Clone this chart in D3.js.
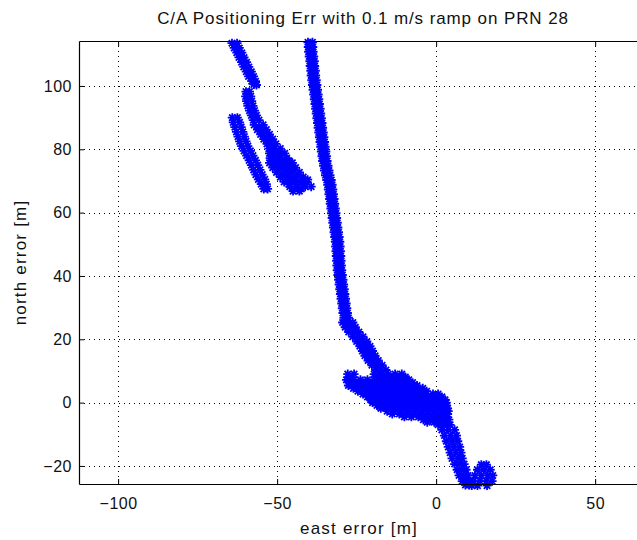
<!DOCTYPE html>
<html>
<head>
<meta charset="utf-8">
<script src="https://cdn.jsdelivr.net/npm/d3@7"></script>
<style>
  body { margin: 0; background: #fff; }
  svg { display: block; font-family: "Liberation Sans", Arial, sans-serif; }
</style>
</head>
<body>
<div class="chart"></div>
<script>
// tick values
const xTicks = [-100, -50, 0, 50];
const yTicks = [-20, 0, 20, 40, 60, 80, 100];

// positioning error samples [east, north] in metres
const stripA = [
  [-64.2,113.5],[-62.6,113.5],[-63.5,112],[-61.9,112],[-62.7,110.5],[-61.1,110.5],
  [-62.0,109],[-60.4,109],[-61.2,107.5],[-59.6,107.5],[-60.5,106],[-58.9,106],
  [-59.7,104.5],[-58.1,104.5],[-59.0,103],[-57.4,103],[-58.0,101.5],[-56.8,101.5],
  [-57.3,100.5],[-56.5,100.3]
];
const stripB = [
  [-59.8,98.2],[-58.7,98.2],[-59.9,96.7],[-58.3,96.7],[-59.6,95.2],[-58.0,95.2],
  [-59.2,93.7],[-57.6,93.7],[-58.7,92.2],[-57.1,92.2],[-58.1,90.7],[-56.5,90.7],
  [-57.5,89.2],[-55.7,89.2],
  [-57.2,87.7],[-54.4,87.7],[-56.2,86.2],[-53.4,86.2],[-55.2,84.7],[-52.4,84.7],
  [-54.2,83.2],[-51.4,83.2],[-53.2,81.7],[-50.4,81.7],
  [-55.8,87.0],[-54.8,85.5],[-53.8,84.0],[-52.8,82.5],[-51.8,81.0],
  [-52.6,80.2],[-50.8,80.2],[-49.0,80.2],
  [-51.4,79.4],[-49.0,79.4],
  [-52.4,78.7],[-50.0,78.7],[-47.6,78.7],
  [-51.2,77.9],[-48.8,77.9],
  [-52.2,77.2],[-49.6,77.2],[-47.0,77.2],
  [-51.0,76.4],[-48.6,76.4],[-46.2,76.4],
  [-52.4,75.7],[-50.0,75.7],[-47.6,75.7],[-45.2,75.7],
  [-50.7,74.9],[-48.3,74.9],[-45.9,74.9],
  [-51.4,74.2],[-49.0,74.2],[-46.6,74.2],[-44.2,74.2],
  [-49.6,73.4],[-47.2,73.4],[-44.8,73.4],
  [-50.2,72.7],[-47.8,72.7],[-45.4,72.7],[-43.0,72.7],
  [-48.4,71.9],[-46.0,71.9],[-43.6,71.9],
  [-49.0,71.2],[-46.6,71.2],[-44.2,71.2],[-41.8,71.2],
  [-47.2,70.4],[-44.8,70.4],[-42.4,70.4],[-40.4,70.4],
  [-47.8,69.7],[-45.4,69.7],[-43.0,69.7],[-40.6,69.7],
  [-46.2,68.9],[-43.8,68.9],[-41.4,68.9],
  [-46.0,68.2],[-43.6,68.2],[-41.2,68.2],[-39.3,68.2],
  [-44.6,67.5],[-42.4,67.5],
  [-45.0,66.8],[-43.0,66.8]
];
const stripC = [
  [-64.1,90.0],[-62.5,90.0],[-63.8,88.5],[-61.8,88.5],[-63.3,87.0],[-61.3,87.0],
  [-62.8,85.5],[-60.8,85.5],[-62.3,84.0],[-60.3,84.0],[-61.8,82.5],[-59.8,82.5],
  [-61.2,81.0],[-59.2,81.0],[-60.4,79.5],[-58.4,79.5],[-59.6,78.0],[-57.6,78.0],
  [-58.8,76.5],[-56.8,76.5],[-58.1,75.0],[-56.1,75.0],[-57.4,73.5],[-55.4,73.5],
  [-56.7,72.0],[-54.7,72.0],[-55.9,70.5],[-53.9,70.5],[-55.0,69.0],[-53.4,69.0],
  [-54.2,67.5],[-53.0,67.5]
];
const mainTrack = [
  [-40.3,113.8],[-38.9,113.8],[-40.2,112.3],[-38.8,112.3],[-40.1,110.8],[-38.7,110.8],
  [-39.9,109.3],[-38.5,109.3],[-39.7,107.8],[-38.3,107.8],[-39.6,106.3],[-38.2,106.3],
  [-39.4,104.8],[-38.0,104.8],[-39.3,103.3],[-37.9,103.3],[-39.1,101.8],[-37.7,101.8],
  [-38.9,100.3],[-37.5,100.3],[-38.7,98.8],[-37.3,98.8],[-38.5,97.3],[-37.1,97.3],
  [-38.3,95.8],[-36.9,95.8],[-38.1,94.3],[-36.7,94.3],[-37.9,92.8],[-36.5,92.8],
  [-37.7,91.3],[-36.3,91.3],[-37.5,89.8],[-36.1,89.8],[-37.3,88.3],[-35.9,88.3],
  [-37.1,86.8],[-35.7,86.8],[-36.9,85.3],[-35.5,85.3],[-36.7,83.8],[-35.3,83.8],
  [-36.5,82.3],[-35.1,82.3],[-36.3,80.8],[-34.9,80.8],[-36.1,79.3],[-34.7,79.3],
  [-35.9,77.8],[-34.5,77.8],[-35.7,76.3],[-34.3,76.3],[-35.4,74.8],[-34.0,74.8],
  [-35.1,73.3],[-33.7,73.3],[-34.8,71.8],[-33.4,71.8],[-34.4,70.3],[-33.0,70.3],
  [-34.1,68.8],[-32.7,68.8],[-33.9,67.3],[-32.5,67.3],[-33.7,65.8],[-32.3,65.8],
  [-33.5,64.3],[-32.1,64.3],[-33.3,62.8],[-31.9,62.8],[-33.1,61.3],[-31.7,61.3],
  [-32.9,59.8],[-31.5,59.8],[-32.7,58.3],[-31.3,58.3],[-32.5,56.8],[-31.1,56.8],
  [-32.3,55.3],[-30.9,55.3],[-32.1,53.8],[-30.7,53.8],[-31.9,52.3],[-30.5,52.3],
  [-31.7,50.8],[-30.3,50.8],[-31.6,49.3],[-30.2,49.3],[-31.5,47.8],[-30.1,47.8],
  [-31.4,46.3],[-30.0,46.3],[-31.3,44.8],[-29.9,44.8],[-31.2,43.3],[-29.8,43.3],
  [-31.1,41.8],[-29.7,41.8],[-30.9,40.3],[-29.5,40.3],[-30.7,38.8],[-29.3,38.8],
  [-30.5,37.3],[-29.1,37.3],[-30.3,35.8],[-28.9,35.8],[-30.1,34.3],[-28.7,34.3],
  [-29.9,32.8],[-28.5,32.8],[-29.7,31.3],[-28.3,31.3],[-29.5,29.8],[-28.1,29.8],
  [-29.3,28.3],[-27.9,28.3],[-29.0,26.8],[-27.6,26.8],
  [-29.4,25.3],[-27.8,25.3],[-26.2,25.3],[-28.6,23.8],[-27.0,23.8],[-25.4,23.8],
  [-27.5,22.3],[-25.9,22.3],[-24.3,22.3],[-26.2,20.8],[-24.6,20.8],[-23.0,20.8],
  [-25.0,19.3],[-23.4,19.3],[-21.8,19.3],[-24.0,17.8],[-22.4,17.8],[-20.8,17.8],
  [-23.2,16.3],[-21.6,16.3],[-20.0,16.3],[-22.4,14.8],[-20.8,14.8],[-19.2,14.8],
  [-21.4,13.3],[-19.8,13.3],[-18.2,13.3],[-20.2,11.8],[-18.6,11.8],[-17.0,11.8],
  [-19.0,10.3],[-17.4,10.3],[-15.8,10.3]
];
const blob = [
  [-27.8,9.0],[-25.8,9.0],[-19.5,9.0],[-17.3,9.0],[-15.1,9.0],[-12.9,9.0],[-10.8,9.0],
  [-27.0,8.1],[-18.4,8.1],[-16.2,8.1],[-14.0,8.1],[-11.8,8.1],[-9.7,8.1],
  [-28.2,7.2],[-26.0,7.2],[-23.8,7.2],[-21.6,7.2],[-19.4,7.2],[-17.2,7.2],[-15.0,7.2],
  [-12.8,7.2],[-10.6,7.2],[-8.6,7.2],
  [-27.1,6.3],[-24.9,6.3],[-22.7,6.3],[-20.5,6.3],[-18.3,6.3],[-16.1,6.3],[-13.9,6.3],
  [-11.7,6.3],[-9.5,6.3],[-7.4,6.3],
  [-27.6,5.4],[-25.4,5.4],[-23.2,5.4],[-21.0,5.4],[-18.8,5.4],[-16.6,5.4],[-14.4,5.4],
  [-12.2,5.4],[-10.0,5.4],[-7.8,5.4],[-6.0,5.4],
  [-26.0,4.5],[-23.8,4.5],[-21.6,4.5],[-19.4,4.5],[-17.2,4.5],[-15.0,4.5],[-12.8,4.5],
  [-10.6,4.5],[-8.4,4.5],[-6.2,4.5],[-4.2,4.5],
  [-24.6,3.6],[-22.4,3.6],[-20.2,3.6],[-18.0,3.6],[-15.8,3.6],[-13.6,3.6],[-11.4,3.6],
  [-9.2,3.6],[-7.0,3.6],[-4.8,3.6],[-3.0,3.6],
  [-23.0,2.7],[-20.8,2.7],[-18.6,2.7],[-16.4,2.7],[-14.2,2.7],[-12.0,2.7],[-9.8,2.7],
  [-7.6,2.7],[-5.4,2.7],[-3.2,2.7],[-1.0,2.7],[0.6,2.7],
  [-21.6,1.8],[-19.4,1.8],[-17.2,1.8],[-15.0,1.8],[-12.8,1.8],[-10.6,1.8],[-8.4,1.8],
  [-6.2,1.8],[-4.0,1.8],[-1.8,1.8],[0.4,1.8],[1.8,1.8],
  [-20.6,0.9],[-18.4,0.9],[-16.2,0.9],[-14.0,0.9],[-11.8,0.9],[-9.6,0.9],[-7.4,0.9],
  [-5.2,0.9],[-3.0,0.9],[-0.8,0.9],[1.4,0.9],[2.8,0.9],
  [-20.0,0.0],[-17.8,0.0],[-15.6,0.0],[-13.4,0.0],[-11.2,0.0],[-9.0,0.0],[-6.8,0.0],
  [-4.6,0.0],[-2.4,0.0],[-0.2,0.0],[2.0,0.0],[3.2,0.0],
  [-18.6,-0.9],[-16.4,-0.9],[-14.2,-0.9],[-12.0,-0.9],[-9.8,-0.9],[-7.6,-0.9],[-5.4,-0.9],
  [-3.2,-0.9],[-1.0,-0.9],[1.2,-0.9],[3.2,-0.9],
  [-17.4,-1.8],[-15.2,-1.8],[-13.0,-1.8],[-10.8,-1.8],[-8.6,-1.8],[-6.4,-1.8],[-4.2,-1.8],
  [-2.0,-1.8],[0.2,-1.8],[2.4,-1.8],[3.6,-1.8],
  [-15.4,-2.7],[-13.2,-2.7],[-11.0,-2.7],[-8.8,-2.7],[-6.6,-2.7],[-4.4,-2.7],[-2.2,-2.7],
  [0.0,-2.7],[2.2,-2.7],[3.8,-2.7],
  [-13.8,-3.6],[-11.6,-3.6],[-9.4,-3.6],[-7.2,-3.6],[-5.0,-3.6],[-2.8,-3.6],[-0.6,-3.6],
  [1.6,-3.6],[3.6,-3.6],
  [-10.0,-4.5],[-7.8,-4.5],[-5.6,-4.5],[-3.4,-4.5],[-1.2,-4.5],[1.0,-4.5],[3.0,-4.5],
  [-4.0,-5.4],[-1.8,-5.4],[0.4,-5.4],[2.4,-5.4],[4.0,-5.4],
  [-2.8,-6.2],[-0.6,-6.2],[1.5,-6.2],[3.4,-6.2],
  [0.6,-7.0],[2.6,-7.0],[4.4,-7.0]
];
const tail = [
  [1.8,-8.6],[3.8,-8.6],[5.8,-8.6],[2.6,-10.4],[4.6,-10.4],[6.4,-10.4],
  [3.2,-12.2],[5.0,-12.2],[6.8,-12.2],[3.8,-14.0],[5.6,-14.0],[7.4,-14.0],
  [4.4,-15.8],[6.2,-15.8],[7.8,-15.8],[5.0,-17.6],[6.8,-17.6],[8.2,-17.6],
  [5.8,-19.4],[7.4,-19.4],[8.8,-19.4],[6.6,-21.2],[8.0,-21.2],[9.4,-21.2],
  [7.2,-23.0],[8.6,-23.0],[10.0,-23.0],[8.2,-24.8],[9.6,-24.8],[10.8,-24.8],
  [9.2,-26.0],[10.4,-26.0]
];
const loop = [
  [14.2,-19.6],[15.8,-19.6],[13.0,-21.2],[15.0,-21.2],[17.0,-21.2],
  [12.2,-23.0],[14.2,-23.0],[16.2,-23.0],[17.8,-23.0],
  [11.8,-24.8],[13.8,-24.8],[15.8,-24.8],[17.6,-24.8],
  [11.2,-26.2],[13.0,-26.2],[16.0,-26.2]
];

const points = [].concat(stripA, stripB, stripC, mainTrack, blob, tail, loop);

const W = 637, H = 540;
const svg = d3.select('.chart').append('svg')
    .attr('width', W).attr('height', H)
    .style('overflow', 'hidden');

svg.append('rect').attr('width', W).attr('height', H).attr('fill', '#fff');

// axes box (right edge falls just outside the picture)
const box = {left: 79, right: 647, top: 41, bottom: 484};

const x = d3.scaleLinear().domain([-112.3, 66.3]).range([box.left, box.right]);
const y = d3.scaleLinear().domain([-25.7, 114.2]).range([box.bottom, box.top]);

// dotted grid
const grid = svg.append('g')
    .attr('stroke', '#000')
    .attr('stroke-width', 1)
    .attr('stroke-dasharray', '1,4');
grid.selectAll('.gx').data(xTicks).join('line')
    .attr('x1', d => Math.round(x(d)) + 0.5).attr('x2', d => Math.round(x(d)) + 0.5)
    .attr('y1', box.top).attr('y2', box.bottom);
grid.selectAll('.gy').data(yTicks).join('line')
    .attr('y1', d => Math.round(y(d)) + 0.5).attr('y2', d => Math.round(y(d)) + 0.5)
    .attr('x1', box.left).attr('x2', box.right);

// asterisk marker like matlab '*'
const asterisk = {
  draw(ctx, size) {
    const r = Math.sqrt(size) / 2, a = r * 0.7071;
    ctx.moveTo(-r, 0); ctx.lineTo(r, 0);
    ctx.moveTo(0, -r); ctx.lineTo(0, r);
    ctx.moveTo(-a, -a); ctx.lineTo(a, a);
    ctx.moveTo(-a, a); ctx.lineTo(a, -a);
  }
};

svg.append('g').selectAll('path')
    .data(points)
    .join('path')
    .attr('transform', d => `translate(${x(d[0])},${y(d[1])})`)
    .attr('d', d3.symbol(asterisk, 81))
    .attr('fill', 'none')
    .attr('stroke', '#0000ff')
    .attr('stroke-width', 1.8);

// axes
const tickFont = 16, labelFont = 17;
const xAxis = d3.axisBottom(x).tickValues(xTicks).tickSizeInner(-5).tickSizeOuter(0).tickPadding(14);
const xAxisTop = d3.axisTop(x).tickValues(xTicks).tickSizeInner(-5).tickSizeOuter(0).tickFormat('');
const yAxis = d3.axisLeft(y).tickValues(yTicks).tickSizeInner(-5).tickSizeOuter(0).tickPadding(7);

function style(g) {
  g.selectAll('.domain').attr('stroke', '#000').attr('stroke-width', 1.2);
  g.selectAll('.tick line').attr('stroke', '#000');
  g.selectAll('.tick text')
    .attr('fill', '#111')
    .attr('font-size', tickFont)
    .attr('letter-spacing', 0.5)
    .attr('font-family', '"Liberation Sans", Arial, sans-serif');
}

svg.append('g').attr('transform', `translate(0,${box.bottom})`).call(xAxis).call(style);
svg.append('g').attr('transform', `translate(0,${box.top})`).call(xAxisTop).call(style);
svg.append('g').attr('transform', `translate(${box.left},0)`).call(yAxis).call(style);

// title and labels
svg.append('text')
    .attr('x', (box.left + box.right) / 2).attr('y', 24)
    .attr('text-anchor', 'middle')
    .attr('font-size', labelFont).attr('fill', '#111')
    .attr('letter-spacing', 0.9)
    .text('C/A Positioning Err with 0.1 m/s ramp on PRN 28');

svg.append('text')
    .attr('x', (box.left + box.right) / 2 - 4).attr('y', 534)
    .attr('text-anchor', 'middle')
    .attr('font-size', labelFont).attr('fill', '#111')
    .attr('letter-spacing', 1.2)
    .text('east error [m]');

svg.append('text')
    .attr('transform', `translate(26,${(box.top + box.bottom) / 2}) rotate(-90)`)
    .attr('text-anchor', 'middle')
    .attr('font-size', labelFont).attr('fill', '#111')
    .attr('letter-spacing', 1.2)
    .text('north error [m]');
</script>
</body>
</html>
